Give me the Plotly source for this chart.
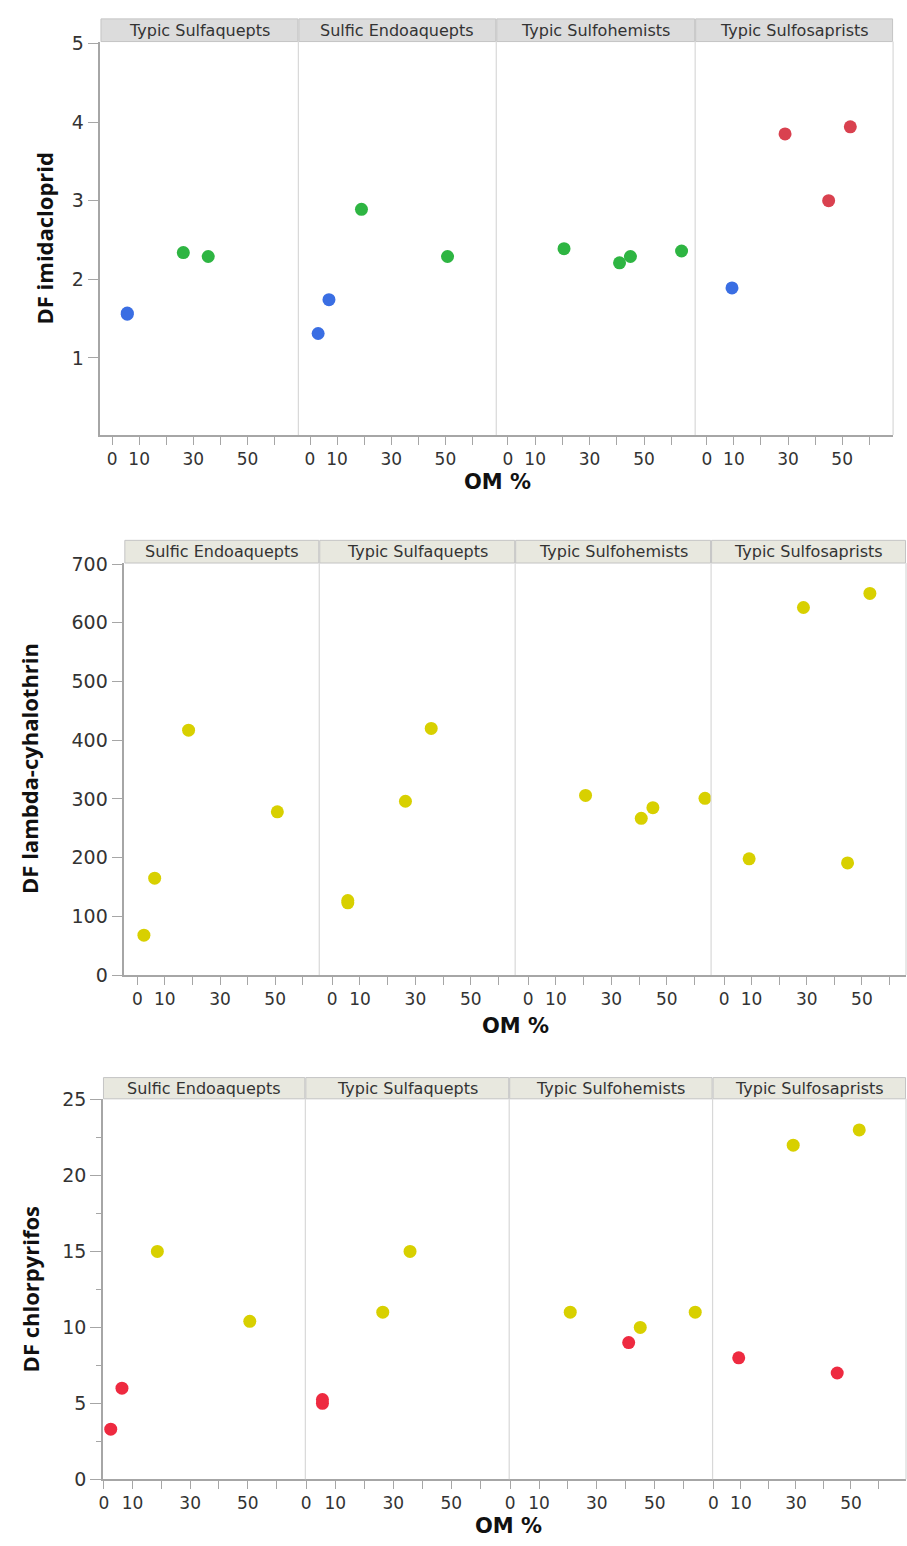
import plotly.graph_objects as go

# ---------------- DATA ----------------
# Panel 1: DF imidacloprid
imid_facets = ["Typic Sulfaquepts", "Sulfic Endoaquepts", "Typic Sulfohemists", "Typic Sulfosaprists"]
imid_soil = ["Typic Sulfaquepts"] * 4 + ["Sulfic Endoaquepts"] * 4 + ["Typic Sulfohemists"] * 4 + ["Typic Sulfosaprists"] * 4
imid_om = [5.6, 5.6, 26.3, 35.5,
           3.0, 7.0, 19.0, 50.8,
           20.6, 41.0, 45.0, 63.8,
           9.3, 28.9, 45.0, 53.0]
imid_df = [1.555, 1.57, 2.34, 2.29,
           1.31, 1.74, 2.89, 2.29,
           2.39, 2.21, 2.29, 2.36,
           1.89, 3.85, 3.00, 3.94]
imid_class = ["low", "low", "mid", "mid",
              "low", "low", "mid", "mid",
              "mid", "mid", "mid", "mid",
              "low", "high", "high", "high"]

# Panel 2: DF lambda-cyhalothrin
lamb_facets = ["Sulfic Endoaquepts", "Typic Sulfaquepts", "Typic Sulfohemists", "Typic Sulfosaprists"]
lamb_soil = ["Sulfic Endoaquepts"] * 4 + ["Typic Sulfaquepts"] * 4 + ["Typic Sulfohemists"] * 4 + ["Typic Sulfosaprists"] * 4
lamb_om = [2.4, 6.3, 18.6, 50.8,
           5.6, 5.6, 26.4, 35.7,
           20.7, 40.8, 45.0, 63.8,
           9.1, 28.8, 44.8, 52.9]
lamb_df = [68, 165, 417, 278,
           123, 127, 296, 420,
           306, 267, 285, 301,
           198, 626, 191, 650]
lamb_class = ["mid"] * 16

# Panel 3: DF chlorpyrifos
chlor_facets = ["Sulfic Endoaquepts", "Typic Sulfaquepts", "Typic Sulfohemists", "Typic Sulfosaprists"]
chlor_soil = ["Sulfic Endoaquepts"] * 4 + ["Typic Sulfaquepts"] * 4 + ["Typic Sulfohemists"] * 4 + ["Typic Sulfosaprists"] * 4
chlor_om = [2.4, 6.3, 18.6, 50.7,
            5.6, 5.6, 26.4, 35.8,
            20.8, 41.0, 45.0, 64.0,
            9.2, 29.0, 45.0, 53.0]
chlor_df = [3.3, 6.0, 15.0, 10.4,
            5.0, 5.25, 11.0, 15.0,
            11.0, 9.0, 10.0, 11.0,
            8.0, 22.0, 7.0, 23.0]
chlor_class = ["low", "low", "mid", "mid",
               "low", "low", "mid", "mid",
               "mid", "low", "mid", "mid",
               "low", "mid", "low", "mid"]

x_ticks = [0, 10, 20, 30, 40, 50, 60]
x_ticktext = ["0", "10", "", "30", "", "50", ""]

# ---------------- STYLE ----------------
W, H = 907, 1546
colors = [
    {"low": "#3A6EE3", "mid": "#2EB542", "high": "#D9414F"},
    {"mid": "#D8D000"},
    {"low": "#EE2A40", "mid": "#D8D000"},
]
panels = [
    dict(facets=imid_facets, soil=imid_soil, om=imid_om, df=imid_df, cls=imid_class,
         title="DF imidacloprid", xs=[96, 295, 494, 694, 893], ytop=31, ybot=430,
         htop=8, hfill="#DCDCDC", xr=[-4.3, 68.8], yr=[0.02, 5.025],
         yt=dict(tickmode="array", tickvals=[1, 2, 3, 4, 5]), minor=None,
         ytitle_xy=(39, 230), xtitle_xy=(495, 478)),
    dict(facets=lamb_facets, soil=lamb_soil, om=lamb_om, df=lamb_df, cls=lamb_class,
         title="DF lambda-cyhalothrin", xs=[120, 316, 513, 710, 906], ytop=560, ybot=978,
         htop=537, hfill="#E8E8DF", xr=[-4.7, 66.0], yr=[0, 701.7],
         yt=dict(tickmode="linear", tick0=0, dtick=100), minor=None,
         ytitle_xy=(24, 768), xtitle_xy=(513, 1030)),
    dict(facets=chlor_facets, soil=chlor_soil, om=chlor_om, df=chlor_df, cls=chlor_class,
         title="DF chlorpyrifos", xs=[98.5, 302, 507, 711.5, 906], ytop=1103.5, ybot=1489.5,
         htop=1082, hfill="#E8E8DF", xr=[-0.3, 70.0], yr=[0, 25.05],
         yt=dict(tickmode="linear", tick0=0, dtick=5),
         minor=dict(ticks="outside", ticklen=5, tick0=0, dtick=2.5, tickcolor="#A6A6A6", tickwidth=1),
         ytitle_xy=(25, 1297), xtitle_xy=(506, 1537)),
]

AXIS_COL = "#A6A6A6"
DIV_COL = "#D8D8D8"
TICK_FONT = dict(family="DejaVu Sans", size=17, color="#333333")


def px(x):
    return x / W


def py(y):
    return 1 - y / H


fig = go.Figure()
layout = dict(width=W, height=H, margin=dict(l=0, r=0, t=0, b=0),
              paper_bgcolor="white", plot_bgcolor="white", showlegend=False)
shapes = []
annotations = []

k = 0
for pi, p in enumerate(panels):
    for fi, facet in enumerate(p["facets"]):
        k += 1
        xa = "x" if k == 1 else f"x{k}"
        ya = "y" if k == 1 else f"y{k}"
        xkey = "xaxis" if k == 1 else f"xaxis{k}"
        ykey = "yaxis" if k == 1 else f"yaxis{k}"
        x0, x1 = p["xs"][fi], p["xs"][fi + 1]
        layout[xkey] = dict(domain=[px(x0), px(x1)], anchor=ya, range=p["xr"],
                            tickmode="array", tickvals=x_ticks, ticktext=x_ticktext,
                            ticks="outside", ticklen=8, tickcolor=AXIS_COL, tickwidth=1.3,
                            showline=True, linecolor=AXIS_COL, linewidth=1.5,
                            showgrid=False, zeroline=False, tickfont=TICK_FONT, fixedrange=True)
        yd = dict(domain=[py(p["ybot"]), py(p["ytop"])], anchor=xa, range=p["yr"],
                  showgrid=False, zeroline=False, fixedrange=True)
        if fi == 0:
            yd.update(p["yt"])
            yd.update(ticks="outside", ticklen=11, tickcolor=AXIS_COL, tickwidth=1.3,
                      showline=True, linecolor=AXIS_COL, linewidth=1.5,
                      tickfont=dict(family="DejaVu Sans", size=19, color="#333333"))
            if p["minor"]:
                yd["minor"] = p["minor"]
        else:
            yd.update(showticklabels=False, ticks="", showline=False)
        layout[ykey] = yd

        # points for this facet, grouped by class
        for cls, col in colors[pi].items():
            xs_ = [o for s, o, c in zip(p["soil"], p["om"], p["cls"]) if s == facet and c == cls]
            ys_ = [d for s, d, c in zip(p["soil"], p["df"], p["cls"]) if s == facet and c == cls]
            if xs_:
                fig.add_trace(go.Scatter(x=xs_, y=ys_, mode="markers", xaxis=xa, yaxis=ya,
                                         marker=dict(color=col, size=13, line=dict(width=0)),
                                         name=f"{facet} {cls}"))

        # header box
        shapes.append(dict(type="rect", xref="paper", yref="paper",
                           x0=px(x0 + 0.5), x1=px(x1 - 0.5), y0=py(p["ytop"]), y1=py(p["htop"]),
                           fillcolor=p["hfill"], line=dict(color="#C4C4C4", width=1), layer="above"))
        annotations.append(dict(xref="paper", yref="paper", x=px((x0 + x1) / 2),
                                y=py((p["ytop"] + p["htop"]) / 2), text=facet, showarrow=False,
                                xanchor="center", yanchor="middle",
                                font=dict(family="DejaVu Sans", size=16, color="#333333")))
        # divider at right edge of facet
        shapes.append(dict(type="line", xref="paper", yref="paper",
                           x0=px(x1), x1=px(x1), y0=py(p["ybot"]), y1=py(p["ytop"]),
                           line=dict(color=DIV_COL, width=1.2)))

    # axis titles
    tx, ty = p["ytitle_xy"]
    annotations.append(dict(xref="paper", yref="paper", x=px(tx), y=py(ty), text=f"<b>{p['title']}</b>",
                            textangle=-90, showarrow=False, xanchor="center", yanchor="middle",
                            font=dict(family="Open Sans", size=22, color="#111111")))
    ox, oy = p["xtitle_xy"]
    annotations.append(dict(xref="paper", yref="paper", x=px(ox), y=py(oy), text="<b>OM %</b>",
                            showarrow=False, xanchor="center", yanchor="middle",
                            font=dict(family="DejaVu Sans", size=21, color="#111111")))

layout["shapes"] = shapes
layout["annotations"] = annotations
fig.update_layout(**layout)
fig.write_html("out.html")
